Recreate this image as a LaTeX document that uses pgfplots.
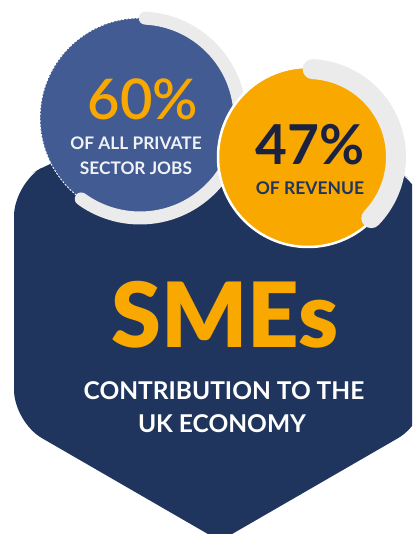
\documentclass[border=0pt]{standalone}
\usepackage{pgfplots}
\pgfplotsset{compat=1.18}
\usepackage{fontspec}
\setmainfont{Lato}
\newfontfamily\latoblack{Lato Black}
\newfontfamily\latosemi{Lato Semibold}
\definecolor{navy}{HTML}{1F355E}
\definecolor{blueC}{HTML}{425B93}
\definecolor{orangeC}{HTML}{F9A800}
\definecolor{grayA}{HTML}{EBEBEB}
\definecolor{darknavy}{HTML}{1A2240}
\begin{document}
\begin{tikzpicture}
\useasboundingbox (0,0) rectangle (412pt,534pt);
\begin{axis}[at={(0,0)},anchor=south west,scale only axis,width=412pt,height=534pt,
  xmin=0,xmax=412,ymin=0,ymax=534,hide axis,clip=true]
% hexagon background
\fill[navy] (axis cs:220,-7) [rounded corners=32pt] -- (axis cs:14,112) -- (axis cs:14,350) -- (axis cs:60,377) -- (axis cs:225,424) -- (axis cs:380,372) -- (axis cs:426,346) -- (axis cs:426,112) [sharp corners] -- cycle;
% blue circle: 60%
\fill[blueC] (axis cs:140,416) circle[radius=100pt];
\draw[white,line width=0.9pt,dash pattern=on 2pt off 1.5pt] (axis cs:140,416) ++(87:100pt) arc[start angle=87,end angle=235,radius=100pt];
\draw[grayA,line width=13pt,line cap=round] (axis cs:140,416) ++(87:100pt) arc[start angle=87,end angle=-126,radius=100pt];
% orange circle: 47%
\fill[orangeC,draw=white,line width=2.5pt] (axis cs:308,377) circle[radius=90pt];
\draw[grayA,line width=20pt,line cap=round] (axis cs:308,377) ++(87:88pt) arc[start angle=87,end angle=-44,radius=88pt];
% texts
\node[anchor=base,text=orangeC,font=\latosemi\fontsize{56}{56}\selectfont] at (axis cs:143,414) {60\%};
\node[anchor=base,text=white!92!blueC,font=\bfseries\fontsize{17.3}{17.3}\selectfont] at (axis cs:136,384) {OF ALL PRIVATE};
\node[anchor=base,text=white!92!blueC,font=\bfseries\fontsize{17.3}{17.3}\selectfont] at (axis cs:136,359) {SECTOR JOBS};
\node[anchor=base,text=darknavy,font=\bfseries\fontsize{55}{55}\selectfont] at (axis cs:310,369) {47\%};
\node[anchor=base,text=navy,font=\bfseries\fontsize{17.5}{17.5}\selectfont] at (axis cs:310,339) {OF REVENUE};
\node[anchor=base,text=orangeC,font=\latoblack\fontsize{90}{90}\selectfont] at (axis cs:225,186) {SMEs};
\node[anchor=base,text=white,font=\bfseries\fontsize{24.5}{24.5}\selectfont] at (axis cs:224,134) {CONTRIBUTION TO THE};
\node[anchor=base,text=white,font=\bfseries\fontsize{24.5}{24.5}\selectfont] at (axis cs:222,101) {UK ECONOMY};
\end{axis}
\end{tikzpicture}
\end{document}
